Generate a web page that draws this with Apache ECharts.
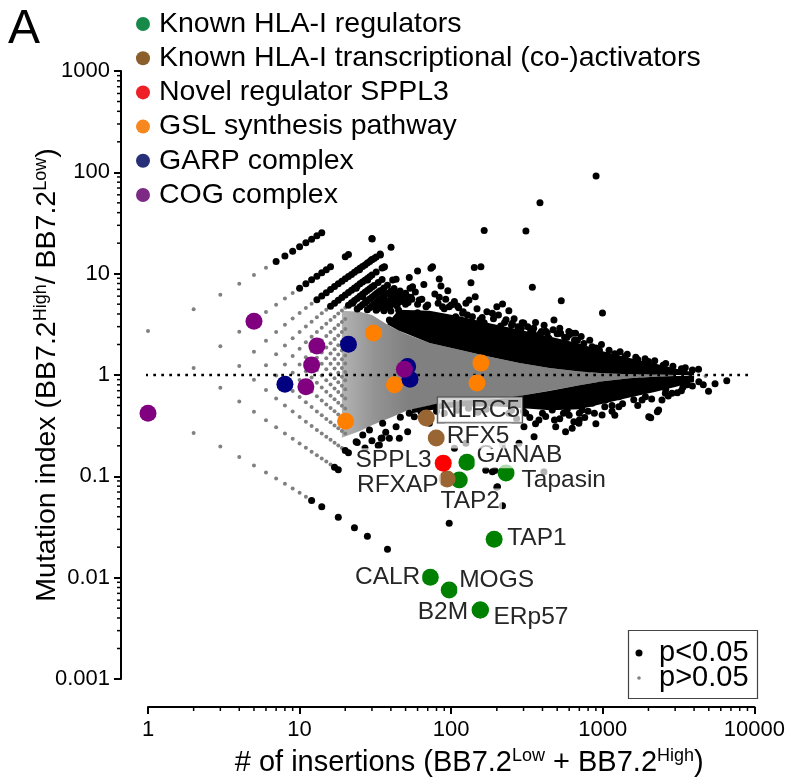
<!DOCTYPE html>
<html><head><meta charset="utf-8">
<script src="https://cdn.jsdelivr.net/npm/echarts@6/dist/echarts.min.js"></script>
<style>html,body{margin:0;padding:0;background:#fff}#c{width:788px;height:784px}</style>
</head><body><div id="c"></div>
<script>
const FONT = 'Liberation Sans, Arial, sans-serif';
const xTickLabels = ['1','10','100','1000','10000'];
const yTickLabels = ['0.001','0.01','0.1','1','10','100','1000'];

// p>0.05 points
const greyPoints = [
[1,2.72],[1,0.421],
[2,4.46],[2,1.17],[2,0.268],
[3,6.21],[3,1.92],[3,0.747],[3,0.197],
[4,7.95],[4,2.67],[4,1.23],[4,0.548],[4,0.155],
[5,9.69],[5,3.43],[5,1.70],[5,0.899],[5,0.433],[5,0.128],
[6,11.44],[6,4.18],[6,2.18],[6,1.25],[6,0.710],[6,0.358],[6,0.109],
[7,4.93],[7,2.66],[7,1.60],[7,0.988],[7,0.587],[7,0.305],[7,0.0953],
[8,5.68],[8,3.14],[8,1.95],[8,1.27],[8,0.816],[8,0.500],[8,0.265],[8,0.0844],
[9,6.43],[9,3.62],[9,2.30],[9,1.54],[9,1.05],[9,0.695],[9,0.436],[9,0.235],[9,0.0757],
[10,4.10],[10,2.66],[10,1.82],[10,1.27],[10,0.891],[10,0.606],[10,0.386],[10,0.211],[10,0.0687],
[11,4.58],[11,3.01],[11,2.10],[11,1.50],[11,1.09],[11,0.776],[11,0.537],[11,0.346],[11,0.191],[11,0.0629],
[12,5.06],[12,3.36],[12,2.38],[12,1.73],[12,1.28],[12,0.946],[12,0.687],[12,0.482],[12,0.314],[12,0.175],
[13,3.71],[13,2.65],[13,1.96],[13,1.48],[13,1.12],[13,0.838],[13,0.617],[13,0.437],[13,0.287],[13,0.161],
[14,4.06],[14,2.93],[14,2.19],[14,1.67],[14,1.29],[14,0.989],[14,0.752],[14,0.560],[14,0.400],[14,0.265],[14,0.150],
[15,4.41],[15,3.21],[15,2.42],[15,1.87],[15,1.46],[15,1.14],[15,0.887],[15,0.682],[15,0.512],[15,0.368],[15,0.246],[15,0.140],
[16,3.49],[16,2.65],[16,2.06],[16,1.63],[16,1.29],[16,1.02],[16,0.805],[16,0.624],[16,0.472],[16,0.342],[16,0.229],[16,0.131],
[17,3.76],[17,2.88],[17,2.26],[17,1.80],[17,1.44],[17,1.16],[17,0.928],[17,0.736],[17,0.575],[17,0.438],[17,0.318],[17,0.214],
[18,4.04],[18,3.11],[18,2.45],[18,1.97],[18,1.59],[18,1.29],[18,1.05],[18,0.849],[18,0.679],[18,0.533],[18,0.408],[18,0.298],[18,0.202],
[19,4.32],[19,3.34],[19,2.65],[19,2.14],[19,1.74],[19,1.43],[19,1.17],[19,0.961],[19,0.782],[19,0.629],[19,0.497],[19,0.382],[19,0.280],[19,0.190],
[20,4.60],[20,3.57],[20,2.84],[20,2.31],[20,1.89],[20,1.56],[20,1.30],[20,1.07],[20,0.886],[20,0.725],[20,0.587],[20,0.466],[20,0.359],[20,0.265],
[809,1.07],[1105,0.934],[1374,1.12],[1744,0.977],[2167,1.02],[2637,1.07],[3200,1.07],[3730,0.955],[4760,0.977],
[2030,0.893],[950,0.834],[1287,0.853],[2363,0.934],[1181,1.17],[1600,0.893]
];

// p<0.05 points
const blackPoints = [
[7,13.18],[8,14.93],[9,16.67],[10,18.41],[11,20.16],[12,21.9],[13,23.65],[14,25.4],
[10,7.18],[11,7.93],[12,8.69],[13,9.44],[14,10.19],[15,10.94],[16,11.69],[20,14.7],[21,15.45],[30,22.2],
[13,5.53],[14,6.01],[15,6.49],[16,6.97],[17,7.45],[18,7.93],[19,8.41],[20,8.89],[22,9.84],[24,10.8],[27,12.2],[30,13.7],[34,15.6],
[21,9.37],[23,10.32],[25,11.28],[26,11.76],[28,12.71],[29,13.19],[31,14.15],[32,14.63],
[16,4.76],[17,5.12],[18,5.47],[19,5.82],[20,6.17],[21,6.52],[22,6.87],[23,7.22],[25,7.93],[28,8.98],[35,11.4],
[24,7.57],[26,8.28],[27,8.63],[29,9.33],[30,9.68],[32,10.38],
[21,4.87],[22,5.15],[23,5.43],[24,5.70],[26,6.26],[28,6.82],[30,7.37],
[25,5.98],[27,6.54],[29,7.09],[31,7.65],[33,8.20],[35,8.76],
[24,4.48],[26,4.94],[28,5.40],[30,5.86],[32,6.32],[34,6.78],
[25,4.71],[27,5.17],[29,5.63],[31,6.09],[33,6.55],[36,7.24],[38,7.70],
[28,4.41],[30,4.80],[32,5.19],[35,5.78],[38,6.36],
[29,4.60],[31,4.99],[33,5.39],[34,5.58],[36,5.97],[40,6.75],[42,7.14],
[32,4.35],[35,4.86],[38,5.37],[42,6.05],
[33,4.52],[34,4.69],[36,5.03],[37,5.20],[40,5.71],[44,6.39],[46,6.73],
[36,4.30],[40,4.91],[45,5.66],
[38,4.61],[42,5.21],[44,5.51],[48,6.11],[50,6.41],
[40,4.27],[44,4.81],[48,5.35],[52,5.89],[45,4.36],[50,4.98],[55,5.59],
[12,0.0579],[14,0.0501],[18,0.0394],[23,0.0311],[28,0.0257],[38,0.0191],
[17,0.123],[18,0.116],[20,0.180],[21,0.171],[24,0.216],[27,0.190],[30,0.225],[33,0.202],[35,0.239],[37,0.273],
[30.1,22.0],[40.1,18.2],[34.1,15.3],[29.8,13.7],[35.9,11.6],[24.8,10.9],[43.3,8.81],[52.9,9.14],[60.0,10.6],[73.5,11.3],
[83.4,8.87],[85.6,7.56],[142,11.5],[157,11.7],[165,26.6],[311,26.4],[385,50.2],[903,92.1],[135,8.15],[343,7.34],
[532,5.41],[144,5.93],[200,4.72],[218,5.02],[294,3.28],[476,3.49],[83.4,5.85],[87.6,4.72],[68.2,4.72],[53.5,7.18],
[54.3,5.85],[60.0,4.12],[43.3,5.50],[35.3,6.90],[28.1,8.66],[23.6,7.18],[22.4,5.10],[39.1,3.49],[47.8,3.49],[661,2.58],
[809,1.66],[597,2.68],[514,2.58],[464,2.13],[389,2.58],[334,2.68],[253,3.24],[212,3.05],[187,4.06],[165,3.28],
[138,3.76],[107,3.76],[97,4.72],[75.3,3.76],[32.0,5.10],[26.1,5.93],[995,4.09],[301,3.26],[346,2.62],[394,2.68],
[527,2.58],[628,2.58],[441,2.30],[788,1.74],[895,1.64],[1042,1.46],[1242,1.46],[769,1.77],[873,1.41],[1560,1.21],
[1842,1.19],[4280,1.14],[1067,1.41],[36.3,11.7],[41.1,8.66],[55.6,7.44],[131,5.50],[119,4.06],[61.6,5.50],[45.5,5.29],[75.3,11.7],
[60,5.0],[90,4.5],[120,4.2],[160,3.7],[250,3.1],[350,2.9],[500,2.55],[650,2.2],[850,1.9],[1200,1.62],
[1700,1.42],[2500,1.25],[3300,1.15],[2000,1.36],[1400,1.52],[110,4.8],[230,3.5],[420,2.7],[580,2.35],[950,1.75],
[48,6.2],[52,5.2],[58,6.6],[64,5.6],[70,4.9],[78,6.3],[82,5.1],[92,5.6],[100,4.9],[66,7.8],[95,6.8],[105,5.3],
[112,4.6],[125,5.1],[128,3.9],[148,4.5],[155,3.5],[172,4.2],[190,3.6],[205,3.9],[225,3.3],[240,4.3],[260,3.6],[275,3.0],
[290,2.9],[320,3.0],[360,3.3],[380,2.5],[410,3.1],[430,2.6],[470,2.8],[520,2.9],[560,2.35],[600,2.5],[680,2.2],[720,2.4],
[750,2.05],[820,2.2],[900,1.85],[980,2.0],[1100,1.75],[1300,1.7],[1450,1.6],[1650,1.5],[1900,1.45],[2200,1.38],[2600,1.3],[2900,1.22],[3500,1.18],[3900,1.12],
[379,0.360],[489,0.309],[644,0.346],[568,0.276],[731,0.451],[989,0.403],[1275,0.487],[2009,0.388],[2335,0.451],[2858,0.660],
[1815,0.566],[1483,0.660],[1042,0.566],[851,0.526],[582,0.451],[464,0.451],[310,0.419],[302,0.309],[352,0.246],[280,0.212],
[218,0.204],[169,0.115],[187,0.111],[202,0.0789],[409,0.111],[105,0.189],[125,0.212],[97,0.0344],[218,0.0513],[46.2,0.382],
[52.9,0.419],[39.1,0.237],[45.5,0.237],[51.6,0.276],[33.6,0.204],[34.5,0.237],[28.9,0.286],[35.3,0.334],[43.3,0.309],[57.1,0.388],
[63.2,0.434],[71.8,0.334],[26.1,0.256],[23.6,0.220],[6570,0.879],[4980,0.690],[3375,0.756],[3100,0.669],[2290,0.434],[2070,0.379],
[1030,0.487],[695,0.334],[2455,0.566],[2585,0.660],[1910,0.611],[1483,0.767],[1275,0.611],[942,0.611],[809,0.526],[628,0.298],
[194,0.114],[200,0.0779],
[80,0.44],[130,0.47],[170,0.46],[250,0.45],[400,0.42],[550,0.42],[800,0.44],[1150,0.5],[1600,0.57],[2600,0.72],
[3600,0.8],[4300,0.86],[90,0.42],[300,0.44],[700,0.42],
[240,0.42],[330,0.38],[420,0.39],[520,0.37],[600,0.4],[760,0.38],[880,0.42],[1150,0.44],[1350,0.52],[1700,0.5],
[2100,0.58],[2700,0.62],[3300,0.7],[3900,0.78],[4600,0.8],[5500,0.82],[150,0.43],[110,0.45],[360,0.33],[700,0.36],
[900,0.33],[1200,0.4],[480,0.36],[270,0.37]
];

// dense cores of the clouds (outline)
const greyBandX      = [19, 25, 30, 40, 50, 72, 113, 179, 282, 444, 700, 1000, 1500, 2200, 3000];
const greyBandTop    = [4.3, 4.2, 3.9, 3.0, 2.55, 2.07, 1.77, 1.51, 1.31, 1.17, 1.08, 1.04, 1.02, 1.01, 1.0];
const greyBandBottom = [0.24, 0.28, 0.32, 0.38, 0.44, 0.5, 0.55, 0.58, 0.62, 0.7, 0.79, 0.87, 0.93, 0.96, 0.98];
const blackUpX       = [38, 45, 72, 113, 179, 282, 444, 700, 1000, 1500, 2200, 3000, 4000];
const blackUpTop     = [3.25, 4.4, 4.3, 3.8, 3.25, 2.8, 2.4, 2.05, 1.72, 1.47, 1.3, 1.16, 1.06];
const blackUpBottom  = [3.15, 2.75, 2.07, 1.77, 1.51, 1.31, 1.17, 1.08, 1.04, 1.02, 1.01, 1.0, 1.0];
const blackLoX       = [55, 80, 120, 200, 300, 450, 700, 1000, 1500, 2200, 3000, 4000];
const blackLoTop     = [0.46, 0.52, 0.56, 0.58, 0.63, 0.7, 0.79, 0.87, 0.93, 0.96, 0.98, 0.99];
const blackLoBottom  = [0.42, 0.46, 0.49, 0.49, 0.47, 0.45, 0.46, 0.52, 0.6, 0.68, 0.76, 0.86];

// highlighted genes
const knownNames = ['GANAB','Tapasin','TAP2','TAP1','CALR','MOGS','B2M','ERp57'];
const knownX = [127, 230, 113, 192, 72.8, 97, 155, 156];
const knownY = [0.138, 0.108, 0.092, 0.024, 0.0101, 0.00755, 0.0048, 0.0048];
const tfNames = ['NLRC5','RFX5','RFXAP'];
const tfX = [68.5, 79.7, 94];
const tfY = [0.376, 0.239, 0.094];
const spplNames = ['SPPL3'];
const spplX = [88.6];
const spplY = [0.135];
const gslX = [20.1, 30.7, 42.2, 148, 157];
const gslY = [0.35, 2.6, 0.8, 0.834, 1.31];
const garpX = [8, 21, 51.6, 53.5];
const garpY = [0.81, 2.01, 1.21, 0.907];
const cogX = [1, 5, 11, 12, 13, 49.1];
const cogY = [0.42, 3.39, 0.767, 1.255, 1.93, 1.14];

const groupNames = ['Known HLA-I regulators','Known HLA-I transcriptional (co-)activators','Novel regulator SPPL3','GSL synthesis pathway','GARP complex','COG complex'];
const groupColors = ['#008000','#996633','#ff0000','#ff8000','#000080','#800080'];
const legendColors = ['#178a4a','#8c5e2c','#ee2026','#f7871f','#262f78','#7d2a85'];
const pLegendNames = ['p<0.05','p>0.05'];

const labelPlace = {
  NLRC5:  {position:'right', distance:3,  offset:[0,-8], borderColor:'#444', borderWidth:1},
  RFX5:   {position:'right', distance:0,  offset:[0,-2]},
  SPPL3:  {position:'left',  distance:1,  offset:[0,-2.5]},
  GANAB:  {position:'right', distance:-1, offset:[0,-6.5]},
  RFXAP:  {position:'left',  distance:-2, offset:[0,6]},
  TAP2:   {position:'bottom',distance:0,  offset:[11,0]},
  Tapasin:{position:'right', distance:5,  offset:[0,7]},
  TAP1:   {position:'right', distance:2.5,offset:[0,-0.5]},
  CALR:   {position:'left',  distance:-0.5,offset:[0,0]},
  MOGS:   {position:'right', distance:-0.5,offset:[0,-10]},
  B2M:    {position:'left',  distance:1.5,offset:[0,2.5]},
  ERp57:  {position:'right', distance:2.5,offset:[0,7.5]}
};

function named(names, xs, ys) {
  return xs.map((x, i) => {
    const it = {value:[x, ys[i]]};
    if (names) { it.name = names[i]; it.label = Object.assign({show:true}, labelPlace[names[i]]); }
    return it;
  });
}
function plain(xs, ys) { return xs.map((x, i) => [x, ys[i]]); }

function band(xs, tops, bots, fill, z) {
  return {
    type:'custom', coordinateSystem:'cartesian2d', silent:true, z:z, clip:false,
    data:[[xs[0], tops[0]]],
    renderItem(params, api) {
      const pts = [];
      for (let i = 0; i < xs.length; i++) pts.push(api.coord([xs[i], tops[i]]));
      for (let i = xs.length - 1; i >= 0; i--) pts.push(api.coord([xs[i], bots[i]]));
      return {type:'polygon', shape:{points:pts}, style:{fill:fill}};
    }
  };
}

const xMinor = [], yMinor = [];
for (let k = 0; k < 4; k++) for (let m = 2; m <= 9; m++) xMinor.push(m * Math.pow(10, k));
for (let k = -3; k < 3; k++) for (let m = 2; m <= 9; m++) yMinor.push(m * Math.pow(10, k));
const X_OFF = 28, Y_OFF = 27;

const labelStyle = {
  formatter:'{b}', fontSize:24.5, fontFamily:FONT, color:'#262626',
  backgroundColor:'rgba(255,255,255,0.7)', padding:[0,2]
};

function colored(idx, data) {
  return {
    type:'scatter', name:groupNames[idx], data:data, symbol:'circle', symbolSize:17,
    itemStyle:{color:groupColors[idx], opacity:1}, z:10,
    label:Object.assign({show:false}, labelStyle), emphasis:{disabled:true}
  };
}

const chart = echarts.init(document.getElementById('c'), null, {renderer:'canvas'});
chart.setOption({
  animation:false,
  backgroundColor:'#fff',
  title:{text:'A', left:8, top:6, padding:0, textStyle:{fontSize:48, fontWeight:'normal', color:'#000', fontFamily:FONT}},
  grid:{left:148, right:32, top:71, bottom:105, containLabel:false},
  legend:[
    {data:groupNames.map((n, i) => ({name:n, itemStyle:{color:legendColors[i]}})),
     orient:'vertical', left:136, top:9.5, padding:0, itemWidth:22, itemHeight:14, itemGap:5.2, icon:'circle',
     selectedMode:false, textStyle:{fontSize:28.5, lineHeight:28.5, color:'#000', fontFamily:FONT}}
  ],
  graphic:[
    {type:'rect', shape:{x:628.5, y:630.5, width:129, height:68}, style:{fill:'none', stroke:'#444', lineWidth:1.2}, silent:true},
    {type:'circle', shape:{cx:639, cy:653, r:3.5}, style:{fill:'#000'}, silent:true},
    {type:'circle', shape:{cx:639, cy:678, r:1.8}, style:{fill:'#808080'}, silent:true},
    {type:'text', x:659, y:653, style:{text:pLegendNames[0], fontSize:29, fontFamily:FONT, fill:'#000', verticalAlign:'middle', align:'left'}, silent:true},
    {type:'text', x:659, y:678, style:{text:pLegendNames[1], fontSize:29, fontFamily:FONT, fill:'#000', verticalAlign:'middle', align:'left'}, silent:true}
  ],
  xAxis:{
    type:'log', logBase:10, min:1, max:10000, offset:X_OFF,
    axisLine:{show:true, onZero:false, lineStyle:{color:'#000', width:2}},
    axisTick:{show:true, inside:false, length:7, lineStyle:{color:'#000', width:2}},
    minorTick:{show:false}, splitLine:{show:false},
    axisLabel:{fontSize:22, color:'#000', fontFamily:FONT, margin:12,
      formatter:v => xTickLabels[Math.round(Math.log10(v))]},
    name:'# of insertions (BB7.2{s|Low} + BB7.2{s|High})', nameLocation:'middle', nameGap:40, nameMoveOverlap:false,
    nameTextStyle:{fontSize:29, lineHeight:31, color:'#000', fontFamily:FONT, padding:[0,0,0,36],
      rich:{s:{fontSize:18, lineHeight:18, verticalAlign:'top', color:'#000', fontFamily:FONT}}}
  },
  yAxis:{
    type:'log', logBase:10, min:0.001, max:1000, offset:Y_OFF,
    axisLine:{show:true, onZero:false, lineStyle:{color:'#000', width:2}},
    axisTick:{show:true, inside:false, length:7, lineStyle:{color:'#000', width:2}},
    minorTick:{show:false}, splitLine:{show:false},
    axisLabel:{fontSize:22, color:'#000', fontFamily:FONT, margin:11,
      formatter:v => yTickLabels[Math.round(Math.log10(v)) + 3]},
    name:'Mutation index (BB7.2{s|High}/ BB7.2{s|Low})', nameLocation:'middle', nameGap:58, nameRotate:90, nameMoveOverlap:false,
    nameTextStyle:{fontSize:28.5, lineHeight:31, color:'#000', fontFamily:FONT,
      rich:{s:{fontSize:18, lineHeight:18, verticalAlign:'top', color:'#000', fontFamily:FONT}}}
  },
  series:[
    band(greyBandX, greyBandTop, greyBandBottom, new echarts.graphic.LinearGradient(0,0,1,0,[
      {offset:0, color:'rgba(128,128,128,0.6)'},{offset:0.1, color:'rgba(128,128,128,0.85)'},
      {offset:0.2, color:'rgba(128,128,128,1)'},{offset:1, color:'rgba(128,128,128,1)'}]), 1),
    {type:'scatter', name:'p>0.05', data:greyPoints, symbol:'circle', symbolSize:4, itemStyle:{color:'#808080', opacity:1}, z:2, silent:true},
    band(blackUpX, blackUpTop, blackUpBottom, '#000', 3),
    band(blackLoX, blackLoTop, blackLoBottom, '#000', 3),
    {type:'scatter', name:'p<0.05', data:blackPoints, symbol:'circle', symbolSize:7, itemStyle:{color:'#000', opacity:1}, z:4, silent:true},
    {type:'line', data:[[0.85,1],[9270,1]], symbol:'none', clip:false, silent:true, z:5,
     lineStyle:{color:'#000', width:2.7, type:[2.7,5.3]}},
    {type:'custom', coordinateSystem:'cartesian2d', clip:false, silent:true, z:6, data:xMinor.map(v => [v, 1]),
     renderItem(p, api) { const c = api.coord([api.value(0), 0.001]);
       return {type:'line', shape:{x1:c[0], y1:c[1] + X_OFF, x2:c[0], y2:c[1] + X_OFF + 4}, style:{stroke:'#000', lineWidth:1.5}}; }},
    {type:'custom', coordinateSystem:'cartesian2d', clip:false, silent:true, z:6, data:yMinor.map(v => [1, v]),
     renderItem(p, api) { const c = api.coord([1, api.value(1)]);
       return {type:'line', shape:{x1:c[0] - Y_OFF, y1:c[1], x2:c[0] - Y_OFF - 4, y2:c[1]}, style:{stroke:'#000', lineWidth:1.5}}; }},
    colored(0, named(knownNames, knownX, knownY)),
    colored(1, named(tfNames, tfX, tfY)),
    colored(2, named(spplNames, spplX, spplY)),
    colored(3, plain(gslX, gslY)),
    colored(4, plain(garpX, garpY)),
    colored(5, plain(cogX, cogY))
  ]
});
</script>
</body></html>
